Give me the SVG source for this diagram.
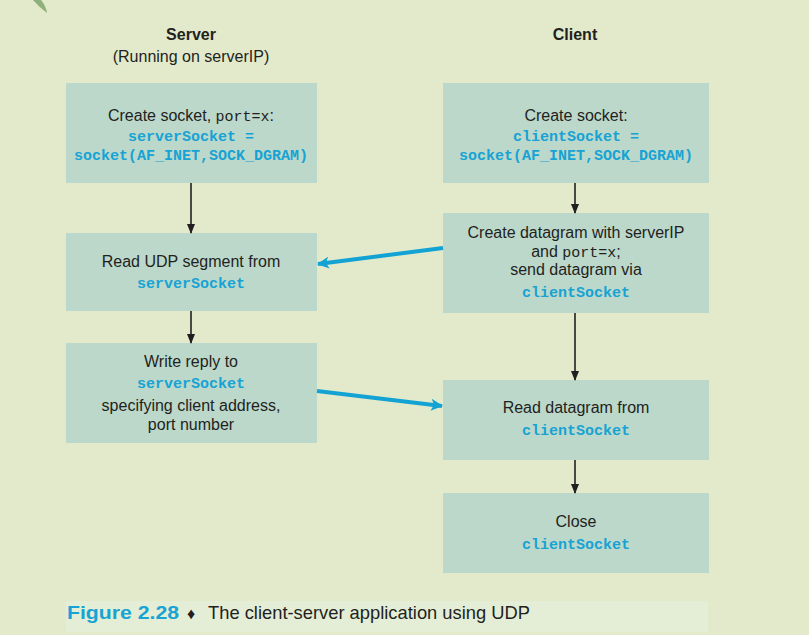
<svg xmlns="http://www.w3.org/2000/svg" width="809" height="635" viewBox="0 0 809 635">
<defs>
<style>
.bg{fill:#e2eacb}
.box{fill:#bbd8cb}
.t{font-family:"Liberation Sans","DejaVu Sans",sans-serif;font-size:16px;fill:#231f20;text-anchor:middle}
.h{font-weight:bold}
.m{font-family:"Liberation Mono","DejaVu Sans Mono",monospace;font-size:15px;font-weight:bold;fill:#17a3d3;text-anchor:middle}
.mi{font-family:"Liberation Mono","DejaVu Sans Mono",monospace;font-size:15px;fill:#231f20}
.k{stroke:#231f20;stroke-width:1.6;fill:none}
.b{stroke:#12a3d4;stroke-width:4;fill:none}
.cap{font-family:"Liberation Sans","DejaVu Sans",sans-serif;font-size:19px}
</style>
<marker id="ak" markerWidth="10" markerHeight="10" refX="9" refY="5" orient="auto" markerUnits="userSpaceOnUse">
<path d="M0,1 L10,5 L0,9 Z" fill="#231f20"/>
</marker>
<marker id="ab" markerWidth="12" markerHeight="12" refX="11" refY="6" orient="auto" markerUnits="userSpaceOnUse">
<path d="M0,0 L12,6 L0,12 L3,6 Z" fill="#12a3d4"/>
</marker>
</defs>
<rect class="bg" x="0" y="0" width="809" height="635"/>
<path d="M33,0 L41,0 Q46,6 47,13 Q40,8 33,0 Z" fill="#8fb07a"/>

<text class="t h" x="191" y="40">Server</text>
<text class="t" x="191" y="62">(Running on serverIP)</text>
<text class="t h" x="575" y="40">Client</text>

<g id="s1">
<rect class="box" x="66" y="83" width="251" height="100"/>
<text class="t" x="191" y="121">Create  socket, <tspan class="mi">port=x</tspan>:</text>
<text class="m" x="191" y="141">serverSocket =</text>
<text class="m" x="191" y="160">socket(AF_INET,SOCK_DGRAM)</text>
</g>
<g id="s2">
<rect class="box" x="66" y="233" width="251" height="78"/>
<text class="t" x="191" y="267">Read UDP segment from</text>
<text class="m" x="191" y="288">serverSocket</text>
</g>
<g id="s3">
<rect class="box" x="66" y="343" width="251" height="100"/>
<text class="t" x="191" y="367">Write reply to</text>
<text class="m" x="191" y="388">serverSocket</text>
<text class="t" x="191" y="411">specifying client address,</text>
<text class="t" x="191" y="430">port number</text>
</g>

<g id="c1">
<rect class="box" x="443" y="83" width="266" height="100"/>
<text class="t" x="576" y="121">Create socket:</text>
<text class="m" x="576" y="141">clientSocket =</text>
<text class="m" x="576" y="160">socket(AF_INET,SOCK_DGRAM)</text>
</g>
<g id="c2">
<rect class="box" x="443" y="213" width="266" height="100"/>
<text class="t" x="576" y="238">Create datagram with serverIP</text>
<text class="t" x="576" y="257">and <tspan class="mi">port=x</tspan>;</text>
<text class="t" x="576" y="275">send datagram via</text>
<text class="m" x="576" y="297">clientSocket</text>
</g>
<g id="c3">
<rect class="box" x="443" y="380" width="266" height="80"/>
<text class="t" x="576" y="413">Read datagram from</text>
<text class="m" x="576" y="435">clientSocket</text>
</g>
<g id="c4">
<rect class="box" x="443" y="493" width="266" height="80"/>
<text class="t" x="576" y="527">Close</text>
<text class="m" x="576" y="549">clientSocket</text>
</g>

<g id="connectors">
<line class="k" x1="191" y1="183" x2="191" y2="233" marker-end="url(#ak)"/>
<line class="k" x1="191" y1="311" x2="191" y2="343" marker-end="url(#ak)"/>
<line class="k" x1="575" y1="183" x2="575" y2="213" marker-end="url(#ak)"/>
<line class="k" x1="575" y1="313" x2="575" y2="380" marker-end="url(#ak)"/>
<line class="k" x1="575" y1="460" x2="575" y2="493" marker-end="url(#ak)"/>
<line class="b" x1="443" y1="248" x2="318" y2="264" marker-end="url(#ab)"/>
<line class="b" x1="317" y1="391" x2="442" y2="406" marker-end="url(#ab)"/>
</g>

<rect x="66" y="601" width="642" height="31" fill="#e4eed6"/>
<text class="cap" y="619"><tspan x="67" font-weight="bold" fill="#17a3d3" textLength="112" lengthAdjust="spacingAndGlyphs">Figure 2.28</tspan><tspan x="187" fill="#231f20" font-size="16">♦</tspan><tspan x="208" fill="#231f20" textLength="322" lengthAdjust="spacingAndGlyphs">The client-server application using UDP</tspan></text>
</svg>
